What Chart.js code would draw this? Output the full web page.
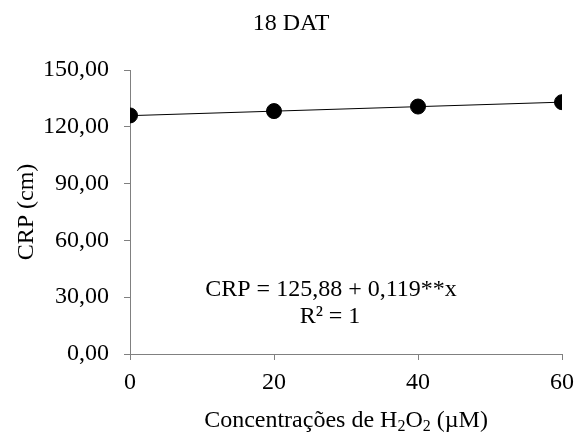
<!DOCTYPE html>
<html>
<head>
<meta charset="utf-8">
<script src="https://cdn.jsdelivr.net/npm/chart.js@4.4.1/dist/chart.umd.min.js"></script>
<style>
  html, body { margin: 0; padding: 0; background: #fff; }
</style>
</head>
<body>
<canvas id="chCRP" width="576" height="432"></canvas>
<script>
// data
var concentrations = [0, 20, 40, 60];
var crpValues = [126.0, 128.3, 130.7, 133.0];
var fitIntercept = 125.88;
var fitSlope = 0.119;
var yTicks = [0, 30, 60, 90, 120, 150];
var xTicks = [0, 20, 40, 60];

var serif = "'Liberation Serif', 'Times New Roman', serif";

var points = concentrations.map(function (x, i) {
  return { x: x, y: crpValues[i] };
});
var xLast = concentrations[concentrations.length - 1];
var fitLine = [
  { x: concentrations[0], y: fitIntercept + fitSlope * concentrations[0] },
  { x: xLast, y: fitIntercept + fitSlope * xLast }
];

// title, axis titles and equation
var textPlugin = {
  id: "textPlugin",
  afterDraw: function (chart) {
    var ctx = chart.ctx;
    var area = chart.chartArea;
    ctx.save();
    ctx.fillStyle = "#000";
    ctx.textBaseline = "alphabetic";
    ctx.textAlign = "center";
    ctx.font = "24px " + serif;

    ctx.fillText("18 DAT", 291, 30);

    ctx.fillText("CRP = 125,88 + 0,119**x", 331, 296);
    ctx.fillText("R\u00b2 = 1", 330, 323);

    // y title
    ctx.save();
    ctx.translate(33, (area.top + area.bottom) / 2);
    ctx.rotate(-Math.PI / 2);
    ctx.fillText("CRP (cm)", 0, 0);
    ctx.restore();

    // x title: Concentrações de H2O2 (µM)
    var parts = [
      { t: "Concentrações de H", sub: false },
      { t: "2", sub: true },
      { t: "O", sub: false },
      { t: "2", sub: true },
      { t: " (\u00b5M)", sub: false }
    ];
    var total = 0;
    parts.forEach(function (p) {
      ctx.font = (p.sub ? "16px " : "24px ") + serif;
      p.w = ctx.measureText(p.t).width;
      total += p.w;
    });
    var x = (area.left + area.right) / 2 - total / 2;
    ctx.textAlign = "left";
    parts.forEach(function (p) {
      ctx.font = (p.sub ? "16px " : "24px ") + serif;
      ctx.fillText(p.t, x, p.sub ? 431 : 427);
      x += p.w;
    });
    ctx.restore();
  }
};

new Chart(document.getElementById("chCRP"), {
  type: "scatter",
  data: {
    datasets: [
      {
        type: "line",
        data: fitLine,
        borderColor: "#000",
        borderWidth: 1,
        pointRadius: 0,
        fill: false
      },
      {
        data: points,
        backgroundColor: "#000",
        borderColor: "#000",
        pointRadius: 7.5,
        pointHoverRadius: 7.5
      }
    ]
  },
  options: {
    responsive: false,
    animation: false,
    layout: { padding: { left: 0, right: 14, top: 70, bottom: 0 } },
    plugins: {
      legend: { display: false },
      tooltip: { enabled: false },
      title: { display: false }
    },
    scales: {
      x: {
        type: "linear",
        min: 0,
        max: 60,
        afterBuildTicks: function (axis) {
          axis.ticks = xTicks.map(function (v) { return { value: v }; });
        },
        afterFit: function (axis) {
          axis.height = 78;
          axis.paddingLeft = 0;
          axis.paddingRight = 0;
        },
        grid: { drawOnChartArea: false, drawTicks: true, tickLength: 6, color: "#808080" },
        border: { display: true, color: "#808080", width: 1 },
        ticks: {
          color: "#000",
          font: { family: serif, size: 24 },
          padding: 8,
          maxRotation: 0
        }
      },
      y: {
        min: 0,
        max: 150,
        afterBuildTicks: function (axis) {
          axis.ticks = yTicks.map(function (v) { return { value: v }; });
        },
        afterFit: function (axis) {
          axis.width = 130;
          axis.paddingTop = 0;
          axis.paddingBottom = 0;
        },
        grid: { drawOnChartArea: false, drawTicks: true, tickLength: 6, color: "#808080" },
        border: { display: true, color: "#808080", width: 1 },
        ticks: {
          color: "#000",
          font: { family: serif, size: 24 },
          padding: 15,
          callback: function (v) { return v.toFixed(2).replace(".", ","); }
        }
      }
    }
  },
  plugins: [textPlugin]
});
</script>
</body>
</html>
